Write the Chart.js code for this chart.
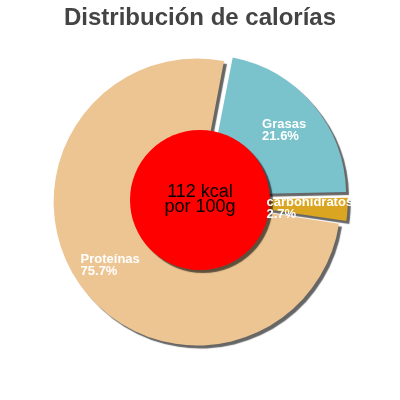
<!DOCTYPE html>
<html>
<head>
<meta charset="utf-8">
<script src="https://cdn.jsdelivr.net/npm/chart.js@4.4.0/dist/chart.umd.min.js"></script>
<style>
  html, body { margin: 0; padding: 0; background: #fff; }
  #wrap { width: 400px; height: 400px; }
</style>
</head>
<body>
<div id="wrap"><canvas id="chart"></canvas></div>
<script>
// data
const labels = ['Grasas', 'carbohidratos', 'Proteínas'];
const values = [21.6, 2.7, 75.7];
const percentLabels = ['21.6%', '2.7%', '75.7%'];
const centerLines = ['112 kcal', 'por 100g'];
const titleText = 'Distribución de calorías';

const colors = ['#7bc3cc', '#daa520', '#edc592'];

// drop shadow under the slices
const shadowPlugin = {
    id: 'sliceShadow',
    beforeDatasetDraw(chart) {
        const ctx = chart.ctx;
        ctx.save();
        ctx.shadowColor = 'rgba(0,0,0,0.6)';
        ctx.shadowOffsetX = 3;
        ctx.shadowOffsetY = 3;
        ctx.shadowBlur = 1;
    },
    afterDatasetDraw(chart) {
        chart.ctx.restore();
    }
};

// red centre disc, kcal text and slice labels
const centerPlugin = {
    id: 'centerDisc',
    afterDatasetsDraw(chart) {
        const ctx = chart.ctx;
        const area = chart.chartArea;
        const cx = (area.left + area.right) / 2;
        const cy = (area.top + area.bottom) / 2;

        ctx.save();
        ctx.shadowColor = 'rgba(0,0,0,0.6)';
        ctx.shadowOffsetX = 3;
        ctx.shadowOffsetY = 3;
        ctx.shadowBlur = 1;
        ctx.beginPath();
        ctx.arc(cx, cy, 70, 0, Math.PI * 2);
        ctx.fillStyle = '#ff0000';
        ctx.fill();
        ctx.restore();

        ctx.save();
        ctx.fillStyle = '#000';
        ctx.font = '18px "Liberation Sans", Arial, sans-serif';
        ctx.textAlign = 'center';
        ctx.textBaseline = 'alphabetic';
        ctx.fillText(centerLines[0], cx, cy - 3);
        ctx.fillText(centerLines[1], cx, cy + 12);
        ctx.restore();

        // labels inside the slices, left aligned block centred on the slice middle
        const meta = chart.getDatasetMeta(0);
        ctx.save();
        ctx.fillStyle = '#fff';
        ctx.font = 'bold 13px "Liberation Sans", Arial, sans-serif';
        ctx.textAlign = 'left';
        meta.data.forEach((arc, i) => {
            const mid = (arc.startAngle + arc.endAngle) / 2;
            const px = cx + Math.cos(mid) * 110;
            const py = cy + Math.sin(mid) * 110;
            const w = Math.max(ctx.measureText(labels[i]).width, ctx.measureText(percentLabels[i]).width);
            const left = px - w / 2;
            ctx.fillText(labels[i], left, py - 1);
            ctx.fillText(percentLabels[i], left, py + 11);
        });
        ctx.restore();
    }
};

new Chart(document.getElementById('chart'), {
    type: 'doughnut',
    data: {
        labels: labels,
        datasets: [{
            data: values,
            backgroundColor: colors,
            borderWidth: 0,
            offset: [31, 17, 14]
        }]
    },
    options: {
        responsive: true,
        maintainAspectRatio: false,
        animation: false,
        rotation: 11,
        radius: 140,
        cutout: 60,
        layout: { padding: { top: 0, left: 0, right: 0, bottom: 40 } },
        plugins: {
            legend: { display: false },
            tooltip: { enabled: false },
            title: {
                display: true,
                text: titleText,
                color: '#444',
                font: { family: '"Liberation Sans", Arial, sans-serif', size: 24, weight: 'bold' },
                padding: { top: 4, bottom: 7.2 }
            }
        }
    },
    plugins: [shadowPlugin, centerPlugin]
});
</script>
</body>
</html>
